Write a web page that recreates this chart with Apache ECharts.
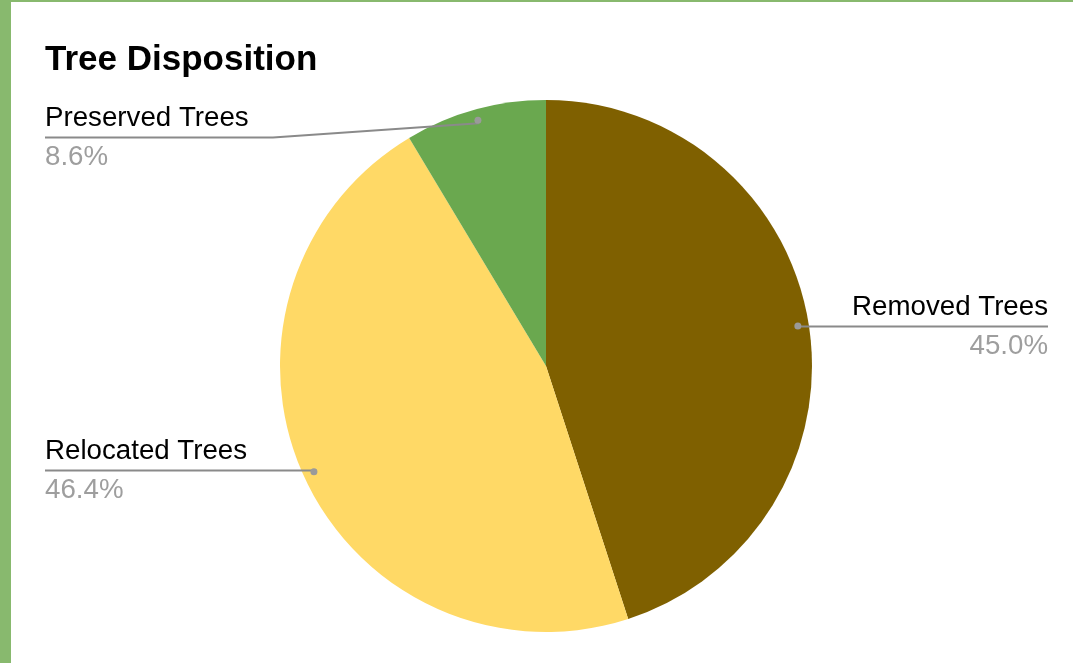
<!DOCTYPE html>
<html>
<head>
<meta charset="utf-8">
<title>Tree Disposition</title>
<script src="https://cdn.jsdelivr.net/npm/echarts@6/dist/echarts.min.js"></script>
<style>
    html, body { margin: 0; padding: 0; background: #fff; }
    #info { position: absolute; left: 0; top: 0; width: 1073px; height: 663px; }
    .edge-left { position: absolute; left: 0; top: 0; width: 11px; height: 663px; background: #88b96e; }
    .edge-top { position: absolute; left: 0; top: 0; width: 1073px; height: 2px; background: #88b96e; }
</style>
</head>
<body>
<div id="info"></div>
<div class="edge-left"></div>
<div class="edge-top"></div>
<script>
    // data
    var names = ['Removed Trees', 'Relocated Trees', 'Preserved Trees'];
    var shares = [45.0, 46.4, 8.6];
    var colors = ['#7f6000', '#ffd966', '#6aa84f'];

    // layout
    var cx = 546, cy = 366, R = 266, dotR = 252, boxTop = 103;
    var font = 'Liberation Sans, Arial, sans-serif';

    var pieData = names.map(function (n, i) {
        return {name: n, value: shares[i], itemStyle: {color: colors[i]}};
    });
    var clearData = names.map(function (n, i) {
        var item = {name: n, value: shares[i], itemStyle: {color: 'rgba(0,0,0,0)'}};
        if (i === 0) {
            item.label = {edgeDistance: 25};
        }
        return item;
    });

    var common = {
        type: 'pie',
        left: 0, top: boxTop, right: 0, bottom: 0,
        center: [cx, cy - boxTop],
        startAngle: 90,
        clockwise: true,
        silent: true,
        animation: false,
        emphasis: {disabled: true}
    };

    var myChart = echarts.init(document.getElementById('info'));

    var option = {
        backgroundColor: '#fff',
        title: {
            text: 'Tree Disposition',
            left: 45,
            top: 43,
            padding: 0,
            textStyle: {fontSize: 35, fontWeight: 'bold', color: '#000', fontFamily: font}
        },
        series: [
            // coloured slices
            echarts.util.merge({
                z: 1,
                radius: R,
                itemStyle: {borderWidth: 0},
                label: {show: false},
                labelLine: {show: false},
                data: pieData
            }, common),
            // labels + leader lines
            echarts.util.merge({
                z: 3,
                radius: dotR,
                itemStyle: {borderWidth: 0},
                avoidLabelOverlap: true,
                label: {
                    show: true,
                    position: 'outer',
                    alignTo: 'edge',
                    edgeDistance: 45,
                    formatter: function (p) {
                        return '{n|' + p.name + '}\n{p|' + p.percent.toFixed(1) + '%}';
                    },
                    rich: {
                        n: {fontSize: 27.7, lineHeight: 39, color: '#000', fontFamily: font},
                        p: {fontSize: 27.7, lineHeight: 39, color: '#9e9e9e', fontFamily: font}
                    }
                },
                labelLine: {show: true, length: 0, length2: 0, lineStyle: {color: '#8a8a8a', width: 2}},
                labelLayout: function (params) {
                    var pts = params.labelLinePoints;
                    if (!pts) {
                        return {};
                    }
                    // start the line at the dot, on the slice's middle angle
                    var dx = pts[0][0] - cx, dy = pts[0][1] - cy;
                    var len = Math.sqrt(dx * dx + dy * dy) || 1;
                    var start = [cx + dx / len * dotR, cy + dy / len * dotR];
                    var r = params.labelRect;
                    var y = r.y + r.height / 2;
                    var isLeft = r.x + r.width / 2 < cx;
                    var bend = isLeft ? cx - R - 7 : cx + R + 7;
                    var far = isLeft ? r.x : r.x + r.width;
                    return {labelLinePoints: [start, [bend, y], [far, y]]};
                },
                data: clearData
            }, common),
            // dots where the leader lines start
            echarts.util.merge({
                z: 4,
                radius: [dotR - 8, dotR + 8],
                itemStyle: {borderWidth: 0, color: 'rgba(0,0,0,0)'},
                label: {
                    show: true,
                    position: 'inside',
                    formatter: '{d| }',
                    rich: {d: {width: 7, height: 7, borderRadius: 3.5, backgroundColor: '#9a9a9a', fontSize: 1}}
                },
                labelLine: {show: false},
                data: names.map(function (n, i) {
                    return {name: n, value: shares[i]};
                })
            }, common)
        ]
    };

    myChart.setOption(option);
</script>
</body>
</html>
